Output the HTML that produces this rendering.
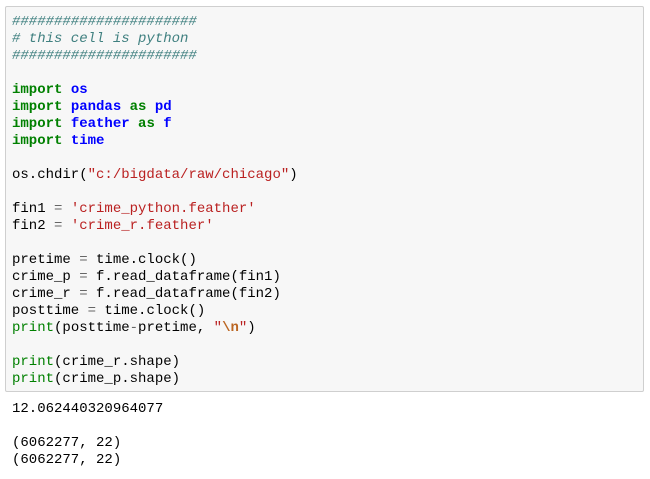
<!DOCTYPE html>
<html><head><style>
body{margin:0;width:650px;height:479px;background:#fff;position:relative;overflow:hidden}
.box{position:absolute;left:5px;top:6px;width:637px;height:384px;background:#f7f7f7;border:1px solid #cfcfcf;border-radius:2px}
pre{margin:0;position:absolute;left:12px;font-family:"Liberation Mono",monospace;font-size:14px;line-height:17px;color:#000}
.code{top:14px}
.out{top:401px}
.c{color:#408080;font-style:italic}
.k{color:#008000;font-weight:bold}
.n{color:#0000ff;font-weight:bold}
.s{color:#ba2121}
.e{color:#bb6622;font-weight:bold}
.b{color:#008000}
.o{color:#666}
</style></head><body>
<div class="box"></div>
<pre class="code"><span class="c">######################
# this cell is python
######################</span>

<span class="k">import</span> <span class="n">os</span>
<span class="k">import</span> <span class="n">pandas</span> <span class="k">as</span> <span class="n">pd</span>
<span class="k">import</span> <span class="n">feather</span> <span class="k">as</span> <span class="n">f</span>
<span class="k">import</span> <span class="n">time</span>

os.chdir(<span class="s">"c:/bigdata/raw/chicago"</span>)

fin1 <span class="o">=</span> <span class="s">'crime_python.feather'</span>
fin2 <span class="o">=</span> <span class="s">'crime_r.feather'</span>

pretime <span class="o">=</span> time.clock()
crime_p <span class="o">=</span> f.read_dataframe(fin1)
crime_r <span class="o">=</span> f.read_dataframe(fin2)
posttime <span class="o">=</span> time.clock()
<span class="b">print</span>(posttime<span class="o">-</span>pretime, <span class="s">"</span><span class="e">\n</span><span class="s">"</span>)

<span class="b">print</span>(crime_r.shape)
<span class="b">print</span>(crime_p.shape)</pre>
<pre class="out">12.062440320964077

(6062277, 22)
(6062277, 22)</pre>
</body></html>
